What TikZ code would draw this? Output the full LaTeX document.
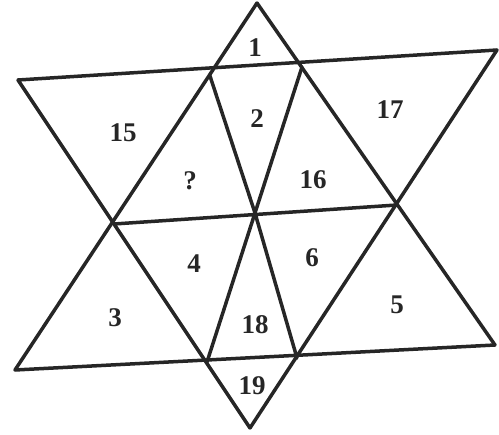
\documentclass[tikz,border=0pt]{standalone}
\usepackage{fontspec}
\setmainfont{Liberation Serif}
\begin{document}
\begin{tikzpicture}[x=1pt,y=-1pt,
  edge/.style={line width=3.5pt,line cap=round,line join=round,draw=black!85},
  num/.style={font=\fontsize{27}{27}\selectfont\bfseries,text=black!85,inner sep=0pt}]
\useasboundingbox (0,0) rectangle (499,435);
% main points
\coordinate (T) at (257,3);
\coordinate (B) at (250,428);
\coordinate (TL) at (18,80);
\coordinate (TR) at (497,50);
\coordinate (BL) at (15,370);
\coordinate (BR) at (495,345);
\coordinate (ML) at (114,224);
\coordinate (MR) at (397,205);
\coordinate (UL) at (210,76);
\coordinate (UR) at (302,67);
\coordinate (LL) at (207,362);
\coordinate (LR) at (297,358);
\coordinate (C) at (255,213);
% lines
\draw[edge] (T) -- (BL);
\draw[edge] (T) -- (BR);
\draw[edge] (B) -- (TL);
\draw[edge] (B) -- (TR);
\draw[edge] (TL) -- (TR);
\draw[edge] (BL) -- (BR);
\draw[edge] (ML) -- (MR);
\draw[edge] (UL) -- (C) -- (LR);
\draw[edge] (UR) -- (C) -- (LL);
% labels
\node[num] (n1) at (255,48) {1};
\node[num] (n2) at (257,119) {2};
\node[num] (n15) at (123,133) {15};
\node[num] (nq) at (190,181) {?};
\node[num] (n17) at (390,110) {17};
\node[num] (n16) at (313,180) {16};
\node[num] (n4) at (194,264) {4};
\node[num] (n3) at (115,318) {3};
\node[num] (n18) at (255,325) {18};
\node[num] (n6) at (312,258) {6};
\node[num] (n5) at (397,305) {5};
\node[num] (n19) at (252,386) {19};
\end{tikzpicture}
\end{document}
